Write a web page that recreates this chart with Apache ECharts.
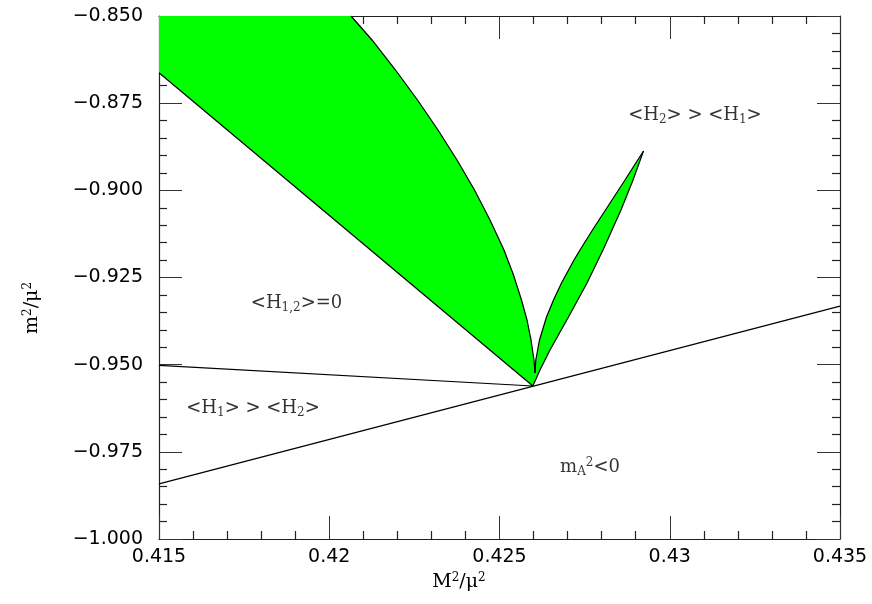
<!DOCTYPE html>
<html><head><meta charset="utf-8">
<script src="https://cdn.jsdelivr.net/npm/echarts@6/dist/echarts.min.js"></script>
<style>html,body{margin:0;padding:0;background:#fff}#c{width:872px;height:604px}</style>
</head><body><div id="c"></div>
<script>
// Axis ranges
const xRange = [0.415, 0.435];
const yRange = [-1.0, -0.85];

// Right edge of the big green region (top axis -> notch)
const bigEdgeX = [0.420639, 0.421256, 0.421946, 0.422592, 0.423194, 0.423752, 0.424266, 0.424721, 0.425132, 0.425411, 0.425646, 0.425808, 0.425925, 0.426013, 0.426043];
const bigEdgeY = [-0.85000, -0.85688, -0.86549, -0.87409, -0.88270, -0.89130, -0.89990, -0.90851, -0.91711, -0.92428, -0.93145, -0.93719, -0.94292, -0.94866, -0.95239];
// Left edge of the horn (notch -> tip)
const hornLeftX = [0.426043, 0.426066, 0.426175, 0.426380, 0.426586, 0.426821, 0.427188, 0.427364, 0.427731, 0.428113, 0.428686, 0.429229];
const hornLeftY = [-0.95239, -0.94866, -0.94292, -0.93633, -0.93145, -0.92658, -0.91998, -0.91711, -0.91138, -0.90564, -0.89704, -0.88872];
// Right edge of the horn (tip -> cusp)
const hornRightX = [0.429229, 0.428921, 0.428568, 0.428304, 0.428040, 0.427570, 0.427026, 0.426483, 0.426189, 0.425980];
const hornRightY = [-0.88872, -0.89704, -0.90564, -0.91138, -0.91711, -0.92658, -0.93633, -0.94579, -0.95153, -0.95612];
// Straight boundary lines
const upperLineX = [0.42598, 0.415];
const upperLineY = [-0.95612, -0.8663];
const leftLineX = [0.415, 0.42598];
const leftLineY = [-0.9502, -0.95612];
const lowerLineX = [0.415, 0.435];
const lowerLineY = [-0.9842, -0.9332];

// Region annotations
const annoText = ['<H{sub|2}> > <H{sub|1}>', '<H{sub|1,2}>=0', '<H{sub|1}> > <H{sub|2}>', 'm{sub|A}{sup|2}<0'];
const annoX = [0.43074, 0.41904, 0.41776, 0.42766];
const annoY = [-0.8784, -0.9323, -0.9624, -0.9794];

const zip = (xs, ys) => xs.map((x, i) => [x, ys[i]]);
const polygon = [[xRange[0], yRange[1]]]
  .concat(zip(bigEdgeX, bigEdgeY))
  .concat(zip(hornLeftX, hornLeftY).slice(1))
  .concat(zip(hornRightX, hornRightY).slice(1))
  .concat(zip(upperLineX, upperLineY).slice(1));

const serif = 'DejaVu Serif';
const richStyles = {
  sub: {fontFamily: serif, fontSize: 12, padding: [9, 0, 0, 0], color: '#000'},
  sup: {fontFamily: serif, fontSize: 12, padding: [0, 0, 9, 0], color: '#000'}
};

const tickCommon = {
  axisLine: {show: true, onZero: false, lineStyle: {color: '#222', width: 1.2}},
  axisTick: {show: true, inside: true, length: 23, lineStyle: {color: '#333', width: 1}},
  minorTick: {show: true, splitNumber: 5, length: 8, lineStyle: {color: '#222', width: 1.2}},
  splitLine: {show: false}
};
const fmtX = v => String(parseFloat(v.toFixed(3)));
const fmtY = v => (v < 0 ? '\u2212' : '') + Math.abs(v).toFixed(3);

const chart = echarts.init(document.getElementById('c'), null, {renderer: 'canvas'});
const black = {color: '#000', width: 1.2};
const lineSeries = (xs, ys) => ({type: 'line', data: zip(xs, ys), showSymbol: false, symbol: 'none', lineStyle: black, z: 3});
chart.setOption({
  animation: false,
  backgroundColor: '#fff',
  grid: {left: 159, right: 32, top: 16, bottom: 65, containLabel: false},
  xAxis: [
    Object.assign({type: 'value', min: xRange[0], max: xRange[1], interval: 0.005, position: 'bottom',
      axisLabel: {formatter: fmtX, margin: 9, fontFamily: 'DejaVu Sans', fontSize: 19, color: '#000'}}, tickCommon),
    Object.assign({type: 'value', min: xRange[0], max: xRange[1], interval: 0.005, position: 'top',
      axisLabel: {show: false}}, tickCommon)
  ],
  yAxis: [
    Object.assign({type: 'value', min: yRange[0], max: yRange[1], interval: 0.025, position: 'left',
      axisLabel: {formatter: fmtY, margin: 16, fontFamily: 'DejaVu Sans', fontSize: 19, color: '#000'}}, tickCommon),
    Object.assign({type: 'value', min: yRange[0], max: yRange[1], interval: 0.025, position: 'right',
      axisLabel: {show: false}}, tickCommon)
  ],
  graphic: [
    {type: 'text', x: 459, y: 582, z: 100, style: {text: 'M{sup|2}/\u03bc{sup|2}', align: 'center', verticalAlign: 'middle',
      fontFamily: serif, fontSize: 19, fill: '#000', rich: richStyles}},
    {type: 'text', x: 32, y: 308, rotation: Math.PI / 2, z: 100, style: {text: 'm{sup|2}/\u03bc{sup|2}', align: 'center', verticalAlign: 'middle',
      fontFamily: serif, fontSize: 19, fill: '#000', rich: richStyles}}
  ],
  series: [
    {
      type: 'custom', coordinateSystem: 'cartesian2d', clip: true, z: 1,
      data: [0],
      renderItem: (params, api) => ({
        type: 'polygon',
        shape: {points: polygon.map(p => api.coord(p))},
        style: {fill: '#00ff00', stroke: 'none'}
      })
    },
    lineSeries(bigEdgeX, bigEdgeY),
    lineSeries(hornLeftX, hornLeftY),
    lineSeries(hornRightX, hornRightY),
    lineSeries(upperLineX, upperLineY),
    lineSeries(leftLineX, leftLineY),
    lineSeries(lowerLineX, lowerLineY),
    {
      type: 'scatter', symbolSize: 1, itemStyle: {color: 'rgba(0,0,0,0)'}, z: 5,
      data: annoX.map((x, i) => ({value: [x, annoY[i]], name: annoText[i]})),
      label: {show: true, position: 'inside', formatter: p => p.name, fontFamily: serif, fontSize: 18, color: '#000', rich: richStyles}
    }
  ]
});
</script>
</body></html>
